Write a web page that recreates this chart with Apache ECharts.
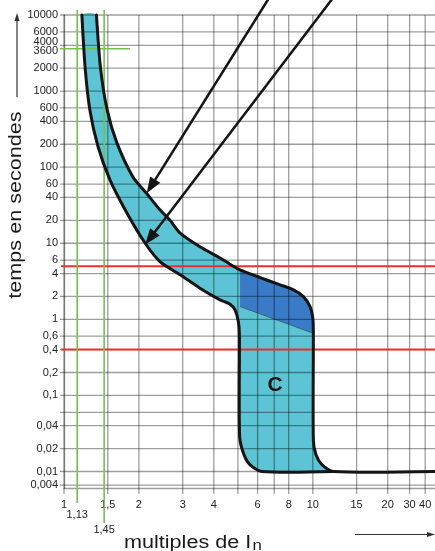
<!DOCTYPE html>
<html><head><meta charset="utf-8">
<script src="https://cdn.jsdelivr.net/npm/echarts@6/dist/echarts.min.js"></script>
<style>html,body{margin:0;padding:0;background:#fff}#c{width:435px;height:551px}</style>
</head><body><div id="c"></div>
<script>
// ---------------- data ----------------
const xTickValues = [1, 1.5, 2, 3, 4, 5, 6, 7, 8, 10, 15, 20, 30, 40];
const xTickLabels = ['1', '1,5', '2', '3', '4', '', '6', '', '8', '10', '15', '20', '30', '40'];
const yTickValues = [10000, 6000, 4000, 3600, 2000, 1000, 600, 400, 200, 100, 60, 40, 20, 10, 6, 4, 2, 1, 0.6, 0.4, 0.2, 0.1, 0.06, 0.04, 0.02, 0.01, 0.004];
const yTickLabels = ['10000', '6000', '4000', '3600', '2000', '1000', '600', '400', '200', '100', '60', '40', '20', '10', '6', '4', '2', '1', '0,6', '0,4', '0,2', '0,1', '', '0,04', '0,02', '0,01', '0,004'];
const yLabelOnly = [3600];               // labelled, but no grid line
// upper (right) boundary of the C tripping zone: [multiple of In, time s]
const upperCurve = [[1.35, 10000], [1.40, 2100], [1.49, 570], [1.63, 210], [1.89, 75], [2.15, 45], [2.43, 27.5], [2.67, 20], [2.93, 13.6], [3.52, 9.0], [4.24, 6.4], [4.65, 5.3], [5.1, 4.47], [6.14, 3.54], [7.39, 2.84], [8.36, 2.44], [9.17, 1.99], [9.75, 1.47], [10.0, 1.04], [10.05, 0.69], [10.05, 0.026], [10.3, 0.0166], [10.9, 0.0122], [12.1, 0.01]];
// lower (left) boundary
const lowerCurve = [[1.18, 10000], [1.215, 2100], [1.27, 570], [1.37, 187], [1.53, 68], [1.79, 25], [2.12, 10], [2.43, 5.75], [2.93, 3.85], [3.52, 2.57], [4.24, 1.8], [4.65, 1.58], [4.87, 1.33], [5.02, 0.94], [5.07, 0.63], [5.08, 0.029], [5.29, 0.0166], [5.6, 0.0122], [6.24, 0.01]];
const darkDiagonal = [[5.1, 1.47], [9.98, 0.66]];
const redLevels = [5, 0.4];
const greenCurrents = [1.13, 1.45];
const greenLabels = ['1,13', '1,45'];
const greenTime = 3600;
const arrowFrom = [[6.61, 16000], [11.92, 16000]];
const arrowTo = [[2.15, 45.5], [2.12, 9.6]];
const curveName = 'C';
const curveNameAt = [7.05, 0.138];
const X_MIN = 1, X_MAX = 48, Y_MIN = 0.0033, Y_MAX = 10000;

// ---------------- the chart's (log, with compressed ends) scale ----------------
const XB = Math.log10(20), X_TAIL = 0.5, Y_TAIL = 0.45;
function ux(x) { const l = Math.log10(x); return l <= XB ? l : XB + (l - XB) * X_TAIL; }
function uy(t) { const l = Math.log10(t); return l >= -2 ? l : -2 + (l + 2) * Y_TAIL; }
function nearest(values, tf, u) {
  let best = 0, bd = Infinity;
  values.forEach((v, i) => { const d = Math.abs(tf(v) - u); if (d < bd) { bd = d; best = i; } });
  return best;
}

// ---------------- styles ----------------
const FONT = '"Liberation Sans", Arial, Helvetica, sans-serif';
const GRID = 'rgba(0,0,0,0.38)';
const LIGHT = '#5cc4d4', DARK = '#3a7bc8', RED = '#e8322a', GREEN = '#74c24e', INK = '#141414';
const SMOOTH = 0.25;

const chart = echarts.init(document.getElementById('c'), null, { renderer: 'canvas' });

function P(api, p) { return api.coord([ux(p[0]), uy(p[1])]); }

function renderZone(params, api) {
  const band = upperCurve.concat(lowerCurve.slice().reverse()).map(p => P(api, p));
  const darkTop = upperCurve.filter(p => p[0] >= darkDiagonal[0][0] && p[1] >= darkDiagonal[1][1]);
  const dark = darkTop.concat([darkDiagonal[1], darkDiagonal[0]]).map(p => P(api, p));
  const d0 = P(api, darkDiagonal[0]), d1 = P(api, darkDiagonal[1]);
  return { type: 'group', children: [
    { type: 'polygon', shape: { points: band, smooth: SMOOTH }, style: { fill: LIGHT } },
    { type: 'polygon', shape: { points: dark }, style: { fill: DARK } },
    { type: 'line', shape: { x1: d0[0], y1: d0[1], x2: d1[0], y2: d1[1] }, style: { stroke: 'rgba(50,50,50,0.55)', lineWidth: 1 } }
  ] };
}

function renderGrid(params, api) {
  const ch = [];
  const tl = P(api, [X_MIN, Y_MAX]), br = P(api, [X_MAX, Y_MIN]);
  const st = { stroke: GRID, lineWidth: 1.3 };
  xTickValues.forEach(v => {
    const x = P(api, [v, Y_MAX])[0];
    ch.push({ type: 'line', shape: { x1: x, y1: tl[1], x2: x, y2: br[1] + 6 }, style: st });
  });
  yTickValues.filter(t => yLabelOnly.indexOf(t) < 0).forEach(t => {
    const y = P(api, [X_MIN, t])[1];
    ch.push({ type: 'line', shape: { x1: tl[0] - 4, y1: y, x2: br[0], y2: y }, style: st });
  });
  return { type: 'group', children: ch };
}

function renderRefs(params, api) {
  const ch = [];
  const tl = P(api, [X_MIN, Y_MAX]), br = P(api, [X_MAX, Y_MIN]);
  redLevels.forEach(t => {
    const y = P(api, [X_MIN, t])[1];
    ch.push({ type: 'line', shape: { x1: tl[0] - 3, y1: y, x2: br[0], y2: y }, style: { stroke: RED, lineWidth: 2 } });
  });
  const ext = [15, 35], gap = [6, 1];
  greenCurrents.forEach((c, i) => {
    const x = P(api, [c, Y_MAX])[0];
    const y2 = br[1] + ext[i];
    ch.push({ type: 'line', shape: { x1: x, y1: tl[1] - 5, x2: x, y2: y2 }, style: { stroke: GREEN, lineWidth: 1.6 } });
    ch.push({ type: 'text', x: x, y: y2 + gap[i], style: { text: greenLabels[i], fontSize: 11, fontFamily: FONT, fill: '#222', align: 'center', verticalAlign: 'top' } });
  });
  const gy = P(api, [X_MIN, greenTime])[1];
  ch.push({ type: 'line', shape: { x1: tl[0] - 4, y1: gy, x2: tl[0] + 66, y2: gy }, style: { stroke: GREEN, lineWidth: 1.6 } });
  const cp = P(api, curveNameAt);
  ch.push({ type: 'text', x: cp[0], y: cp[1], style: { text: curveName, fontSize: 21, fontWeight: 'bold', fontFamily: FONT, fill: INK, align: 'center', verticalAlign: 'middle' } });
  return { type: 'group', children: ch };
}

function renderOutline(params, api) {
  const up = upperCurve.concat([[X_MAX, 0.01]]).map(p => P(api, p));
  const lo = lowerCurve.concat([upperCurve[upperCurve.length - 1]]).map(p => P(api, p));
  const st = { stroke: INK, lineWidth: 3, fill: null, lineJoin: 'round', lineCap: 'round' };
  return { type: 'group', children: [
    { type: 'polyline', shape: { points: up, smooth: SMOOTH }, style: st },
    { type: 'polyline', shape: { points: lo, smooth: SMOOTH }, style: st }
  ] };
}

function renderArrows(params, api) {
  const ch = [];
  arrowFrom.forEach((f, i) => {
    const a = P(api, f), b = P(api, arrowTo[i]);
    const dx = b[0] - a[0], dy = b[1] - a[1], len = Math.hypot(dx, dy);
    const ux_ = dx / len, uy_ = dy / len, nx = -uy_, ny = ux_;
    const L = 16, W = 6;
    const bx = b[0] - ux_ * L, by = b[1] - uy_ * L;
    ch.push({ type: 'line', shape: { x1: a[0], y1: a[1], x2: bx + ux_ * 2, y2: by + uy_ * 2 }, style: { stroke: INK, lineWidth: 2.5 } });
    ch.push({ type: 'polygon', shape: { points: [[b[0], b[1]], [bx + nx * W, by + ny * W], [bx - nx * W, by - ny * W]] }, style: { fill: INK } });
  });
  return { type: 'group', children: ch };
}

const lineStyle = { color: GRID, width: 1.3 };
const option = {
  animation: false,
  backgroundColor: '#fff',
  textStyle: { fontFamily: FONT },
  grid: { left: 64, right: 0, top: 15, bottom: 63, outerBoundsMode: 'none' },
  xAxis: {
    type: 'value', min: ux(X_MIN), max: ux(X_MAX), z: 2,
    axisLine: { show: true, onZero: false, lineStyle: lineStyle },
    axisTick: { show: false },
    splitLine: { show: false },
    axisLabel: {
      customValues: xTickValues.filter((v, i) => xTickLabels[i] !== '').map(ux),
      formatter: v => xTickLabels[nearest(xTickValues, ux, v)],
      margin: 11, fontSize: 11, color: '#222', fontFamily: FONT
    }
  },
  yAxis: {
    type: 'value', min: uy(Y_MIN), max: uy(Y_MAX), z: 2,
    axisLine: { show: true, onZero: false, lineStyle: lineStyle },
    axisTick: { show: false },
    splitLine: { show: false },
    axisLabel: {
      customValues: yTickValues.filter((v, i) => yTickLabels[i] !== '').map(uy),
      formatter: v => {
        const i = nearest(yTickValues, uy, v), s = yTickLabels[i];
        if (yTickValues[i] === 4000) return '{up|' + s + '}';
        if (yTickValues[i] === 3600) return '{dn|' + s + '}';
        return s;
      },
      rich: {
        up: { fontSize: 11, fontFamily: FONT, color: '#222', padding: [0, 0, 7, 0] },
        dn: { fontSize: 11, fontFamily: FONT, color: '#222', padding: [5, 0, 0, 0] }
      },
      margin: 6, fontSize: 11, color: '#222', fontFamily: FONT
    }
  },
  series: [
    { type: 'custom', name: 'zone', coordinateSystem: 'cartesian2d', z: 1, silent: true, clip: false, data: [[0, 0]], renderItem: renderZone },
    { type: 'custom', name: 'grid', coordinateSystem: 'cartesian2d', z: 2, silent: true, clip: false, data: [[0, 0]], renderItem: renderGrid },
    { type: 'custom', name: 'refs', coordinateSystem: 'cartesian2d', z: 3, silent: true, clip: false, data: [[0, 0]], renderItem: renderRefs },
    { type: 'custom', name: 'outline', coordinateSystem: 'cartesian2d', z: 5, silent: true, clip: false, data: [[0, 0]], renderItem: renderOutline },
    { type: 'custom', name: 'arrows', coordinateSystem: 'cartesian2d', z: 6, silent: true, clip: false, data: [[0, 0]], renderItem: renderArrows }
  ],
  graphic: [
    { type: 'text', x: 16, y: 205, rotation: Math.PI / 2, scaleX: 1.2, style: { text: 'temps en secondes', fontSize: 18, fontFamily: FONT, fill: '#1a1a1a', align: 'center', verticalAlign: 'middle' } },
    { type: 'line', shape: { x1: 17, y1: 97, x2: 17, y2: 20 }, style: { stroke: '#333', lineWidth: 1.2 } },
    { type: 'polygon', shape: { points: [[17, 13], [14.5, 21], [19.5, 21]] }, style: { fill: '#333' } },
    { type: 'text', x: 124, y: 543, scaleX: 1.2, style: { text: '{a|multiples de I}{b|n}', align: 'left', verticalAlign: 'middle',
        rich: { a: { fontSize: 18, fontFamily: FONT, fill: '#1a1a1a' }, b: { fontSize: 14, fontFamily: FONT, fill: '#1a1a1a', padding: [6, 0, 0, 1] } } } },
    { type: 'line', shape: { x1: 355, y1: 534.5, x2: 428, y2: 534.5 }, style: { stroke: '#333', lineWidth: 1.2 } },
    { type: 'polygon', shape: { points: [[435, 534.5], [427, 532], [427, 537]] }, style: { fill: '#333' } }
  ]
};
chart.setOption(option);
</script>
</body></html>
